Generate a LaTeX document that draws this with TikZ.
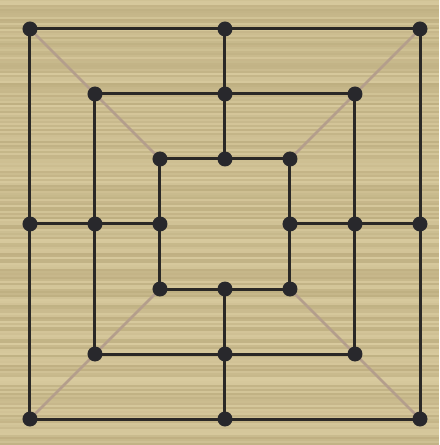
\documentclass[tikz,border=0pt]{standalone}
\usepackage{tikz}
\usetikzlibrary{positioning}

\definecolor{woodLight}{RGB}{216,202,158}
\definecolor{woodDark}{RGB}{180,164,118}
\definecolor{boardLine}{RGB}{42,40,38}
\definecolor{spotFill}{RGB}{40,40,44}
\definecolor{diagLine}{RGB}{180,158,140}

\tikzset{
  ring/.style={draw=boardLine,line width=0.03cm,line join=miter},
  cross/.style={draw=boardLine,line width=0.03cm},
  diag/.style={draw=diagLine,line width=0.025cm},
  spot/.style={fill=spotFill}
}

\begin{document}
\begin{tikzpicture}[x=0.65cm,y=0.65cm]
% wood background
\useasboundingbox (-3.4615,-3.4) rectangle (3.2923,3.446);
\fill[woodLight] (-3.4615,-3.4) rectangle (3.2923,3.446);
\pgfmathsetseed{17}
\foreach \i in {0,...,222} {
  \pgfmathsetmacro\yy{-3.4+\i*0.03077}
  \pgfmathsetmacro\shade{int(100*rnd)}
  \fill[woodDark!\shade!woodLight,opacity=0.7] (-3.4615,\yy) rectangle (3.2923,\yy+0.03077);
}
% points of the three squares
\foreach \s in {1,2,3} {
  \coordinate (sq\s-nw) at (-\s,\s);
  \coordinate (sq\s-n) at (0,\s);
  \coordinate (sq\s-ne) at (\s,\s);
  \coordinate (sq\s-e) at (\s,0);
  \coordinate (sq\s-se) at (\s,-\s);
  \coordinate (sq\s-s) at (0,-\s);
  \coordinate (sq\s-sw) at (-\s,-\s);
  \coordinate (sq\s-w) at (-\s,0);
}
% diagonals
\foreach \c in {nw,ne,se,sw}
  \draw[diag] (sq3-\c) -- (sq1-\c);
% squares
\foreach \s in {1,2,3}
  \draw[ring] (sq\s-nw) -- (sq\s-ne) -- (sq\s-se) -- (sq\s-sw) -- cycle;
% cross lines
\foreach \m in {n,e,s,w}
  \draw[cross] (sq3-\m) -- (sq1-\m);
% spots
\foreach \s in {1,2,3}
  \foreach \p in {nw,n,ne,e,se,s,sw,w}
    \fill[spot] (sq\s-\p) circle (0.075cm);
\end{tikzpicture}
\end{document}
